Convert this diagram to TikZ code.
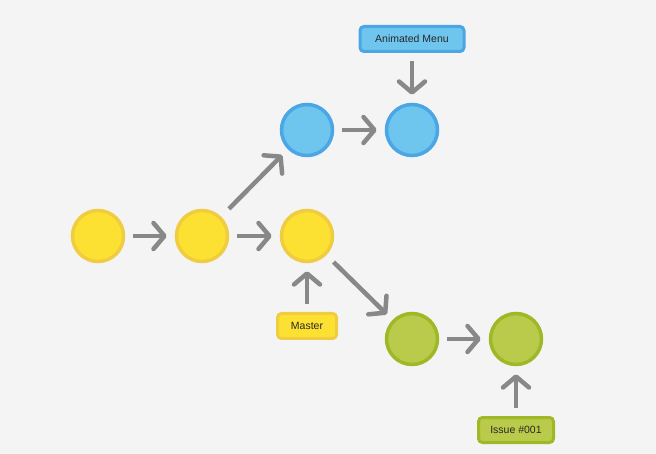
\documentclass[tikz,border=0pt]{standalone}
\usepackage{fontspec}
\setmainfont{Liberation Sans}
\usetikzlibrary{arrows.meta}
\definecolor{bg}{RGB}{244,244,244}
\definecolor{arrowgray}{RGB}{136,136,136}
\definecolor{yfill}{RGB}{253,225,50}
\definecolor{yline}{RGB}{240,204,64}
\definecolor{bfill}{RGB}{110,198,238}
\definecolor{bline}{RGB}{74,166,228}
\definecolor{gfill}{RGB}{186,202,74}
\definecolor{gline}{RGB}{158,184,40}
\definecolor{txt}{RGB}{40,40,40}
\tikzset{
  commit/.style={circle, minimum size=51pt, inner sep=0pt, line width=3.5pt},
  ycommit/.style={commit, fill=yfill, draw=yline},
  bcommit/.style={commit, fill=bfill, draw=bline},
  gcommit/.style={commit, fill=gfill, draw=gline},
  tag/.style={rounded corners=4pt, line width=3pt, minimum height=25pt,
    inner xsep=4pt, font=\fontsize{10.5}{12}\selectfont, text=txt},
  ytag/.style={tag, fill=yfill, draw=yline},
  btag/.style={tag, fill=bfill, draw=bline},
  gtag/.style={tag, fill=gfill, draw=gline},
  link/.style={draw=arrowgray, line width=4.5pt,
    -{Straight Barb[length=11pt, width=26pt, line cap=round, line join=round]},
    shorten <=8pt, shorten >=8pt}
}
\begin{document}
\begin{tikzpicture}[x=1pt, y=-1pt]
  \fill[bg] (0,0) rectangle (656,454);
  \useasboundingbox (0,0) rectangle (656,454);

  % commits
  \node[ycommit] (y1) at (98,236) {};
  \node[ycommit] (y2) at (202,236) {};
  \node[ycommit] (y3) at (307,236) {};
  \node[bcommit] (b1) at (307,130) {};
  \node[bcommit] (b2) at (412,130) {};
  \node[gcommit] (g1) at (412,339) {};
  \node[gcommit] (g2) at (516,339) {};

  % branch labels
  \node[btag, minimum width=104pt] (menu) at (412,39) {Animated Menu};
  \node[ytag, minimum width=59pt] (master) at (307,326) {Master};
  \node[gtag, minimum width=75pt] (issue) at (516,430) {Issue \#001};

  % history
  \draw[link] (y1) -- (y2);
  \draw[link] (y2) -- (y3);
  \draw[link, shorten <=11pt] (y2) -- (b1);
  \draw[link] (b1) -- (b2);
  \draw[link, shorten <=10pt] (y3) -- (g1);
  \draw[link] (g1) -- (g2);

  % label pointers
  \draw[link] (menu) -- (b2);
  \draw[link] (master) -- (y3);
  \draw[link] (issue) -- (g2);
\end{tikzpicture}
\end{document}
